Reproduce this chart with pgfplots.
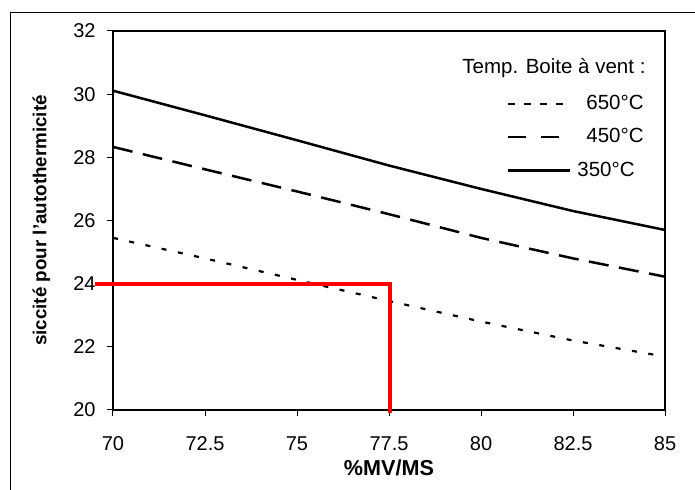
\documentclass[border=0pt]{standalone}
\usepackage{pgfplots}
\pgfplotsset{compat=1.18}
\usepackage{fontspec}
\setmainfont{Liberation Sans}
\begin{document}
\begin{tikzpicture}
\useasboundingbox (-56.5pt,-40pt) rectangle (291pt,205pt);
\draw[line width=0.5pt] (300pt,198.5pt) -- (-51pt,198.5pt) -- (-51pt,-60pt);
\begin{axis}[
  at={(0,0)}, anchor=south west,
  scale only axis, width=276pt, height=189.5pt,
  xmin=70, xmax=85, ymin=20, ymax=32,
  xtick={70,72.5,75,77.5,80,82.5,85},
  xticklabels={70,72.5,75,77.5,80,82.5,85},
  ytick={20,22,24,26,28,30,32},
  xtick pos=bottom, ytick pos=left,
  tick align=outside, major tick length=3pt,
  tick style={black, line width=0.5pt},
  axis line style={black, line width=0.6pt},
  /pgf/number format/assume math mode=true,
  tick label style={font=\fontsize{10}{12}\selectfont},
  xticklabel style={inner sep=0pt, anchor=north, yshift=-10pt},
  yticklabel style={inner sep=0pt, anchor=east, xshift=-5.5pt},
  xlabel={\textbf{\%MV/MS}},
  ylabel={\textbf{siccité pour l'autothermicité}},
  xlabel style={font=\fontsize{10.8}{12}\selectfont, at={(axis description cs:0.5,-0.153)}, anchor=center},
  ylabel style={font=\fontsize{9.4}{11}\selectfont, at={(axis description cs:-0.1295,0.5)}, anchor=center},
  clip=false,
  legend cell align=left,
  legend style={draw=none, fill=none, inner sep=0pt, outer sep=0pt,
    nodes={inner sep=0pt}, row sep=8pt, column sep=0pt,
    font=\fontsize{10.25}{12}\selectfont,
    at={(axis cs:80.71,29.97)}, anchor=north west},
]
\addplot[black, line width=1.1pt, dash pattern=on 2.5pt off 5.8pt,
  legend image code/.code={\draw[black, line width=1.1pt, dash pattern=on 3.5pt off 4.5pt] (0pt,0pt) -- (27.5pt,0pt); \path[draw=none] (0pt,0pt) -- (39pt,0pt);}]
  coordinates {(70,25.45) (72.5,24.8) (75,24.12) (77.5,23.45) (80,22.8) (82.5,22.2) (85,21.69)};
\addlegendentry{650°C}
\addplot[black, line width=1.25pt, dash pattern=on 10pt off 5.3pt,
  legend image code/.code={\draw[black, line width=1.25pt, dash pattern=on 9pt off 7.5pt] (0pt,0pt) -- (25.5pt,0pt); \path[draw=none] (0pt,0pt) -- (39pt,0pt);}]
  coordinates {(70,28.33) (72.5,27.62) (75,26.92) (77.5,26.2) (80,25.45) (82.5,24.8) (85,24.22)};
\addlegendentry{450°C}
\addplot[black, line width=1.25pt,
  legend image code/.code={\draw[black, line width=1.25pt, solid] (0pt,0pt) -- (31pt,0pt); \path[draw=none] (0pt,0pt) -- (39pt,0pt);}]
  coordinates {(70,30.11) (72.5,29.33) (75,28.54) (77.5,27.74) (80,27.0) (82.5,26.3) (85,25.7)};
\addlegendentry{\hspace*{-4.5pt}350°C}
\addplot[red, line width=2pt, forget plot]
  coordinates {(69.51,24) (77.53,24) (77.53,19.9)};
\node[anchor=base east, inner sep=0pt, font=\fontsize{10.25}{12}\selectfont] at (axis cs:84.48,30.64) {Temp. Boite à vent :};
\end{axis}
\end{tikzpicture}
\end{document}
